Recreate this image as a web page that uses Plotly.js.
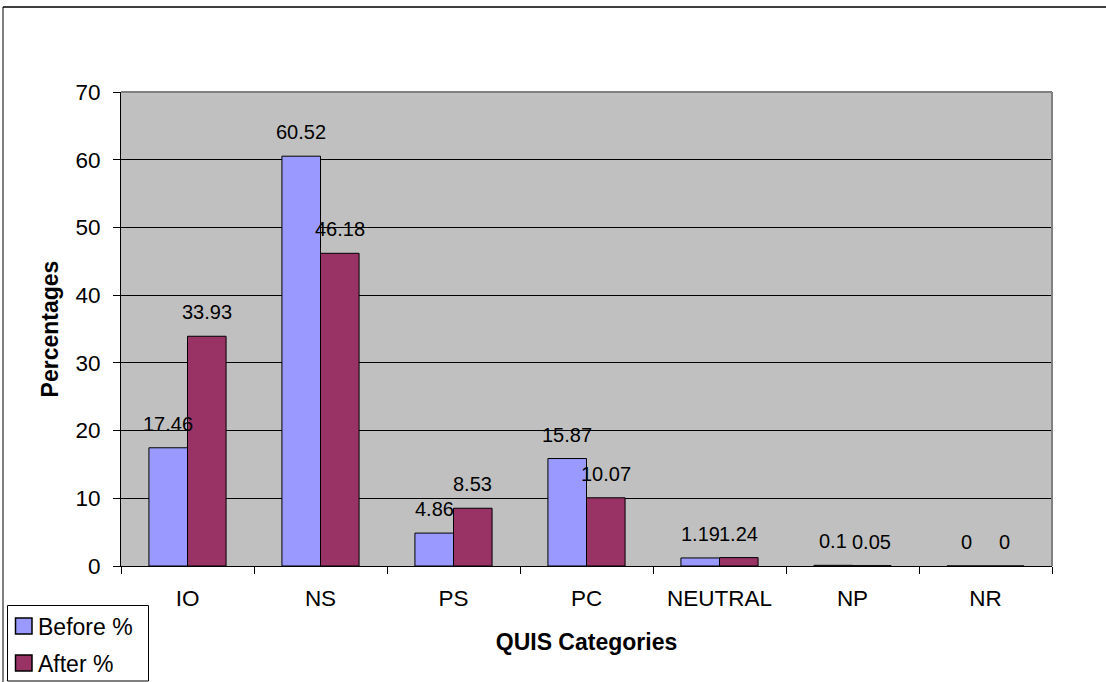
<!DOCTYPE html>
<html>
<head>
<meta charset="utf-8">
<script src="https://cdn.plot.ly/plotly-3.0.1.min.js"></script>
<style>
html,body{margin:0;padding:0;background:#fff;}
#chart{width:1106px;height:682px;}
</style>
</head>
<body>
<div id="chart"></div>
<script>
const categories = ["IO", "NS", "PS", "PC", "NEUTRAL", "NP", "NR"];
const seriesNames = ["Before %", "After %"];
const beforeVals = [17.46, 60.52, 4.86, 15.87, 1.19, 0.1, 0];
const afterVals = [33.93, 46.18, 8.53, 10.07, 1.24, 0.05, 0];
const beforeLabels = ["17.46", "60.52", "4.86", "15.87", "1.19", "0.1", "0"];
const afterLabels = ["33.93", "46.18", "8.53", "10.07", "1.24", "0.05", "0"];
const yTicks = [0, 10, 20, 30, 40, 50, 60, 70];

const W = 1106, H = 682;
const L = 121, R = 1052, T = 92, B = 566;
const pw = R - L, ph = B - T;
const px = v => (v - L) / pw;
const py = v => (B - v) / ph;

const font = "Liberation Sans, Arial, sans-serif";
const colors = ["#9999FF", "#993366"];

const traces = [
  {type: "bar", name: seriesNames[0], x: categories, y: beforeVals, showlegend: false,
   marker: {color: colors[0], line: {color: "#000", width: 1}}, hoverinfo: "none"},
  {type: "bar", name: seriesNames[1], x: categories, y: afterVals, showlegend: false,
   marker: {color: colors[1], line: {color: "#000", width: 1}}, hoverinfo: "none"}
];

const catW = pw / categories.length;
const barW = catW * 0.29;
const annotations = [];
categories.forEach((c, i) => {
  annotations.push({x: c, y: beforeVals[i], xref: "x", yref: "y", text: beforeLabels[i],
    showarrow: false, xshift: -barW / 2, yshift: 24, font: {family: font, size: 20, color: "#000"}});
  annotations.push({x: c, y: afterVals[i], xref: "x", yref: "y", text: afterLabels[i],
    showarrow: false, xshift: barW / 2, yshift: 24, font: {family: font, size: 20, color: "#000"}});
});

// manual legend (box, swatches, labels)
const shapes = [
  {type: "line", xref: "paper", yref: "paper", x0: 0, x1: 1, y0: 1, y1: 1,
   line: {color: "#808080", width: 2}, layer: "above"},
  {type: "line", xref: "paper", yref: "paper", x0: 1, x1: 1, y0: 0, y1: 1,
   line: {color: "#808080", width: 2}, layer: "above"},
  {type: "line", xref: "paper", yref: "paper", x0: px(3), x1: px(1110), y0: py(7), y1: py(7),
   line: {color: "#000", width: 1.5}, layer: "above"},
  {type: "line", xref: "paper", yref: "paper", x0: px(3), x1: px(3), y0: py(7), y1: py(690),
   line: {color: "#000", width: 1}, layer: "above"},
  {type: "rect", xref: "paper", yref: "paper", x0: px(7.5), x1: px(148.5), y0: py(605.5), y1: py(681),
   fillcolor: "#fff", line: {color: "#000", width: 1}, layer: "above"}
];
const legendRows = [626, 663];
seriesNames.forEach((n, i) => {
  const cy = legendRows[i];
  shapes.push({type: "rect", xref: "paper", yref: "paper", x0: px(15.5), x1: px(32), y0: py(cy - 8), y1: py(cy + 8),
    fillcolor: colors[i], line: {color: "#000", width: 1.5}, layer: "above"});
  annotations.push({xref: "paper", yref: "paper", x: px(36), y: py(cy + 1), text: n, showarrow: false,
    xanchor: "left", yanchor: "middle", font: {family: font, size: 23, color: "#000"}});
});

const layout = {
  width: W, height: H,
  margin: {l: L, r: W - R, t: T, b: H - B, pad: 0, autoexpand: false},
  paper_bgcolor: "#fff",
  plot_bgcolor: "#C0C0C0",
  barmode: "group",
  bargap: 0.42,
  bargroupgap: 0,
  showlegend: false,
  font: {family: font, color: "#000"},
  xaxis: {
    type: "category", automargin: false,
    categoryorder: "array", categoryarray: categories,
    showline: true, linecolor: "#000", linewidth: 1,
    ticks: "outside", tickson: "boundaries", ticklen: 7, tickcolor: "#000",
    ticklabelstandoff: 12,
    tickfont: {family: font, size: 22.5},
    showgrid: false, zeroline: false,
    title: {text: "<b>QUIS Categories</b>", font: {family: font, size: 23}, standoff: 23}
  },
  yaxis: {
    range: [0, 70], tickvals: yTicks, ticktext: yTicks.map(String), automargin: false,
    showline: true, linecolor: "#000", linewidth: 1,
    ticks: "outside", ticklen: 7, tickcolor: "#000",
    ticklabelstandoff: 8,
    tickfont: {family: font, size: 22.5},
    showgrid: true, gridcolor: "#000", gridwidth: 1,
    zeroline: false,
    title: {text: "<b>Percentages</b>", font: {family: font, size: 23}, standoff: 10}
  },
  annotations: annotations,
  shapes: shapes
};

Plotly.newPlot("chart", traces, layout, {displayModeBar: false, staticPlot: true});
</script>
</body>
</html>
